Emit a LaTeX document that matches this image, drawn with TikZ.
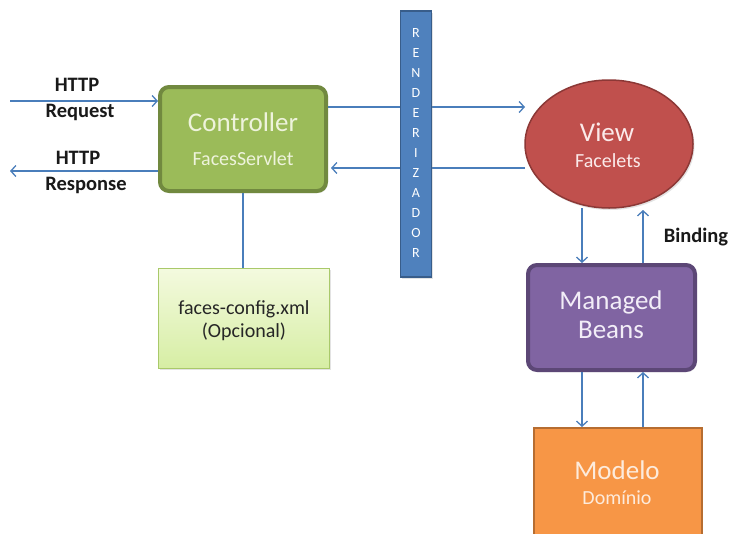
\documentclass[tikz,border=0pt]{standalone}
\usepackage{fontspec}
\setmainfont{Carlito}
\usetikzlibrary{arrows.meta,shadows,shapes.geometric}

\definecolor{ctrlfill}{HTML}{9BBB59}
\definecolor{ctrlline}{HTML}{71893F}
\definecolor{ctrltext}{HTML}{EEF3DC}
\definecolor{cfgtop}{HTML}{F4FADF}
\definecolor{cfgbot}{HTML}{D6EEA4}
\definecolor{cfgline}{HTML}{A9C96A}
\definecolor{barfill}{HTML}{4F81BD}
\definecolor{barline}{HTML}{385D8A}
\definecolor{viewfill}{HTML}{C0504D}
\definecolor{viewline}{HTML}{8C3836}
\definecolor{viewtext}{HTML}{FBEAEA}
\definecolor{beanfill}{HTML}{8064A2}
\definecolor{beanline}{HTML}{5C4776}
\definecolor{beantext}{HTML}{F2EDF7}
\definecolor{modelfill}{HTML}{F79646}
\definecolor{modelline}{HTML}{B66D31}
\definecolor{modeltext}{HTML}{FDEBDC}
\definecolor{linkblue}{HTML}{4A7EBB}

\begin{document}
\begin{tikzpicture}[x=1pt,y=-1pt,
  shade/.style={drop shadow={opacity=0.22,shadow xshift=1.5pt,shadow yshift=-2pt}},
  ctrlbox/.style={draw=ctrlline,fill=ctrlfill,line width=4pt,rounded corners=9pt,
    minimum width=166pt,minimum height=104pt,shade},
  cfgbox/.style={draw=cfgline,top color=cfgtop,bottom color=cfgbot,line width=1pt,
    minimum width=171pt,minimum height=100pt,shade},
  barbox/.style={draw=barline,fill=barfill,line width=1.5pt,
    minimum width=31pt,minimum height=266pt,shade},
  viewshape/.style={ellipse,draw=viewline,fill=viewfill,line width=1.5pt,inner sep=0pt,
    minimum width=168pt,minimum height=128pt,shade},
  beanbox/.style={draw=beanline,fill=beanfill,line width=4pt,rounded corners=9pt,
    minimum width=167pt,minimum height=105pt,shade},
  modelbox/.style={draw=modelline,fill=modelfill,line width=2pt,
    minimum width=168pt,minimum height=112pt},
  bigtxt/.style={font=\fontsize{27}{30}\selectfont,inner sep=0pt},
  midtxt/.style={font=\fontsize{20}{24}\selectfont,inner sep=0pt},
  lbl/.style={font=\fontsize{20.5}{24}\selectfont\bfseries,text=black!90,inner sep=0pt},
  bartxt/.style={font=\fontsize{14}{16}\selectfont,text=white,inner sep=0pt},
  conn/.style={draw=linkblue,line width=1.3pt},
  arr/.style={conn,-{Straight Barb[length=5pt,width=11pt]}}
]
\clip (0,0) rectangle (730,533);
\fill[white] (0,0) rectangle (730,533);

% boxes
\node[ctrlbox] (ctrl) at (243,139) {};
\node[cfgbox] (cfg) at (244,318) {};
\node[viewshape] (view) at (609,144) {};
\node[beanbox] (beans) at (611.5,317.5) {};
\node[modelbox] (model) at (618,484) {};

% texts inside the boxes
\node[bigtxt,text=ctrltext] (ctrlA) at (243,122) {Controller};
\node[midtxt,text=ctrltext] (ctrlB) at (243,159) {FacesServlet};
\node[midtxt,text=black!85] (cfgA) at (244,309) {faces-config.xml};
\node[midtxt,text=black!85] (cfgB) at (244,332) {(Opcional)};
\node[bigtxt,text=viewtext] (viewA) at (607,132) {View};
\node[midtxt,text=viewtext] (viewB) at (608,161) {Facelets};
\node[bigtxt,text=beantext] (beansA) at (611,302) {Managed};
\node[bigtxt,text=beantext] (beansB) at (611,330) {Beans};
\node[bigtxt,text=modeltext] (modelA) at (617,470) {Modelo};
\node[midtxt,text=modeltext] (modelB) at (617,498) {Domínio};

% labels
\node[lbl] (reqA) at (77,85) {HTTP};
\node[lbl] (reqB) at (80,112) {Request};
\node[lbl] (resA) at (78,158) {HTTP};
\node[lbl] (resB) at (86,185) {Response};
\node[lbl] (bind) at (696,237) {Binding};

% connector end points
\coordinate (reqIn) at (10,101);
\coordinate (resOut) at (10,171);
\coordinate (vIn) at (525,107);
\coordinate (vOut) at (525,168);
\coordinate (vDown) at (582,208);
\coordinate (vUp) at (643,210);

% connectors
\draw[arr] (reqIn) -- (reqIn -| ctrl.west);
\draw[arr] (resOut -| ctrl.west) -- (resOut);
\draw[conn] (ctrl.south) -- (ctrl.south |- cfg.north);
\draw[arr] (vIn -| ctrl.east) -- (vIn);
\draw[arr] (vOut) -- ([xshift=3pt]vOut -| ctrl.east);
\draw[arr] (vDown) -- (vDown |- beans.north);
\draw[arr] (vUp |- beans.north) -- (vUp);
\draw[arr] (vDown |- beans.south) -- (vDown |- model.north);
\draw[arr] (vUp |- model.north) -- (vUp |- beans.south);

% renderer bar, laid over the two horizontal connectors
\node[barbox] (bar) at (416,144) {};
\foreach \ch [count=\i] in {R,E,N,D,E,R,I,Z,A,D,O,R}
  \node[bartxt] (bar\i) at (416,{33+20*(\i-1)}) {\ch};
\end{tikzpicture}
\end{document}
